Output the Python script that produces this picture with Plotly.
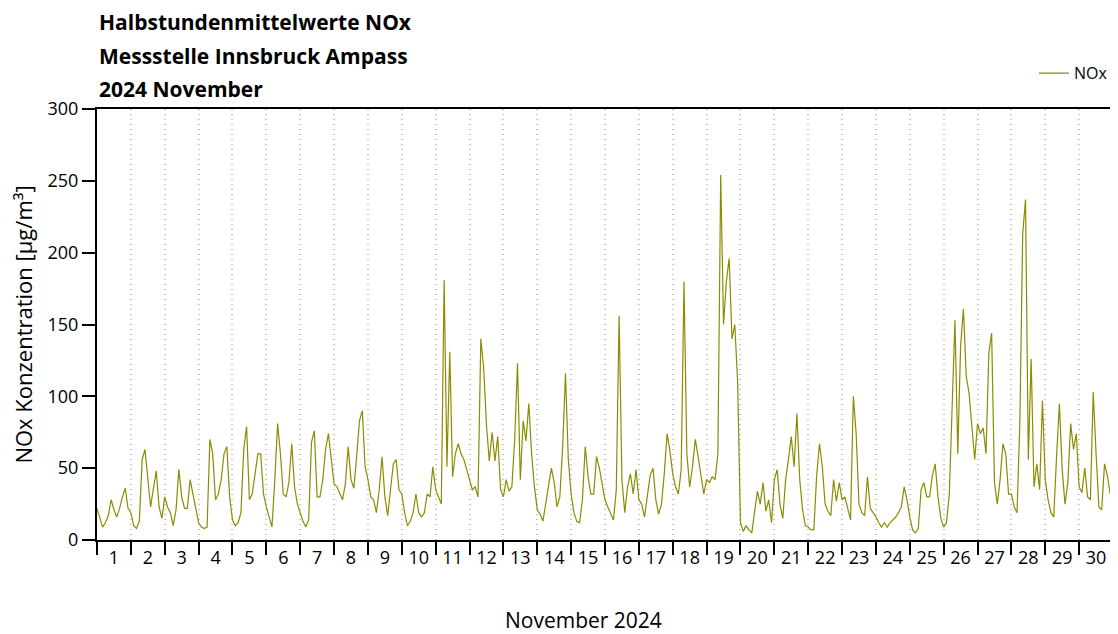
"""
Halbstundenmittelwerte NOx - Messstelle Innsbruck Ampass, November 2024.
Values read off the reference at 2-hour steps (12 per day).
"""

import plotly.graph_objects as go

# 2-hourly NOx values per day, µg/m³
day01 = [22, 16, 9, 12, 17, 28, 21, 16, 22, 30, 36, 22]
day02 = [19, 10, 8, 13, 56, 63, 42, 23, 36, 48, 23, 15]
day03 = [30, 23, 19, 10, 21, 49, 30, 22, 22, 42, 32, 21]
day04 = [12, 9, 8, 9, 70, 60, 28, 32, 42, 60, 65, 30]
day05 = [14, 10, 12, 19, 63, 79, 28, 32, 46, 60, 60, 32]
day06 = [23, 16, 9, 42, 81, 60, 32, 30, 40, 67, 37, 25]
day07 = [19, 13, 9, 14, 68, 76, 30, 30, 42, 63, 74, 56]
day08 = [39, 37, 32, 28, 39, 65, 42, 36, 58, 83, 90, 51]
day09 = [42, 30, 28, 19, 35, 58, 30, 17, 35, 53, 56, 35]
day10 = [32, 19, 10, 13, 19, 32, 19, 16, 19, 32, 30, 51]
day11 = [35, 30, 25, 181, 51, 131, 44, 60, 67, 60, 56, 49]
day12 = [42, 35, 37, 30, 140, 120, 80, 55, 75, 55, 72, 35]
day13 = [30, 42, 34, 37, 70, 123, 42, 83, 69, 95, 60, 37]
day14 = [21, 18, 13, 25, 35, 50, 40, 23, 30, 65, 116, 56]
day15 = [32, 19, 13, 12, 28, 65, 44, 32, 32, 58, 50, 38]
day16 = [28, 23, 19, 14, 35, 156, 42, 19, 37, 46, 32, 49]
day17 = [28, 25, 16, 30, 45, 50, 28, 18, 25, 46, 74, 62]
day18 = [46, 37, 32, 49, 180, 60, 37, 51, 70, 58, 44, 32]
day19 = [42, 40, 44, 42, 60, 254, 150, 180, 196, 140, 150, 110]
day20 = [12, 6, 10, 7, 5, 19, 34, 25, 40, 20, 28, 12]
day21 = [42, 49, 25, 15, 42, 56, 72, 51, 88, 42, 21, 10]
day22 = [9, 7, 7, 45, 67, 51, 25, 20, 17, 42, 27, 40]
day23 = [28, 30, 22, 14, 100, 74, 25, 19, 17, 44, 22, 19]
day24 = [16, 12, 9, 12, 9, 12, 14, 16, 19, 23, 37, 28]
day25 = [16, 7, 5, 8, 35, 40, 30, 30, 45, 53, 30, 15]
day26 = [9, 12, 32, 97, 153, 60, 135, 161, 114, 102, 79, 56]
day27 = [81, 74, 78, 60, 130, 144, 40, 25, 42, 67, 60, 32]
day28 = [32, 23, 19, 83, 213, 237, 56, 126, 37, 53, 35, 97]
day29 = [42, 28, 19, 16, 58, 95, 49, 25, 40, 81, 63, 74]
day30 = [37, 33, 50, 30, 28, 103, 60, 23, 21, 53, 45, 32]

days = [day01, day02, day03, day04, day05, day06, day07, day08, day09, day10,
        day11, day12, day13, day14, day15, day16, day17, day18, day19, day20,
        day21, day22, day23, day24, day25, day26, day27, day28, day29, day30]

day_labels = [str(d) for d in range(1, 31)]
title_lines = ["Halbstundenmittelwerte NOx", "Messstelle Innsbruck Ampass", "2024 November"]
title_y = [1.202, 1.123, 1.046]

FONT = "Open Sans"
LINE = "#8c8c00"

# flatten to a time axis in days since 1 Nov 00:00
y = [v for day in days for v in day]
steps = len(days[0])
x = [i / steps for i in range(len(y))]

fig = go.Figure()
fig.add_trace(go.Scatter(
    x=x, y=y, mode="lines", name="NOx",
    line=dict(color=LINE, width=1.2),
))

# title block, three lines with wide spacing
for txt, ty in zip(title_lines, title_y):
    fig.add_annotation(
        text=f"<b>{txt}</b>", xref="paper", yref="paper",
        x=0.0, y=ty, xanchor="left", yanchor="middle", showarrow=False,
        font=dict(family=FONT, size=21, color="black"),
    )

fig.add_annotation(
    text="November 2024", xref="paper", yref="paper",
    x=0.479, y=-0.186, xanchor="center", yanchor="middle", showarrow=False,
    font=dict(family=FONT, size=21, color="black"),
)

# page body adds an 8px offset, so the figure is sized to fill the window from there
fig.update_layout(
    width=1110, height=626,
    margin=dict(l=89, r=3, t=101, b=94),
    plot_bgcolor="white", paper_bgcolor="white",
    font=dict(family=FONT, size=18, color="black"),
    showlegend=True,
    legend=dict(
        x=1.0, y=1.083, xanchor="right", yanchor="middle",
        font=dict(family=FONT, size=16, color="black"),
        bgcolor="rgba(0,0,0,0)",
    ),
)

fig.update_xaxes(
    range=[0, 30],
    tickvals=[i + 0.5 for i in range(30)], ticktext=day_labels,
    ticks="", showgrid=False, zeroline=False,
    showline=True, linecolor="black", linewidth=2, mirror=True,
    tickfont=dict(family=FONT, size=18),
    minor=dict(tick0=0, dtick=1, ticks="outside", ticklen=13, tickwidth=2,
               tickcolor="black", showgrid=True, gridcolor="#c4c4c4",
               griddash="1px,4px", gridwidth=1.5),
)

fig.update_yaxes(
    range=[0, 300], dtick=50,
    ticks="outside", ticklen=13, tickwidth=2, tickcolor="black",
    showgrid=False, zeroline=False,
    showline=True, linecolor="black", linewidth=2, mirror=True,
    tickfont=dict(family=FONT, size=18),
    title=dict(text="NOx Konzentration [µg/m³]", font=dict(family=FONT, size=22), standoff=16),
)

fig.write_html("out.html")
